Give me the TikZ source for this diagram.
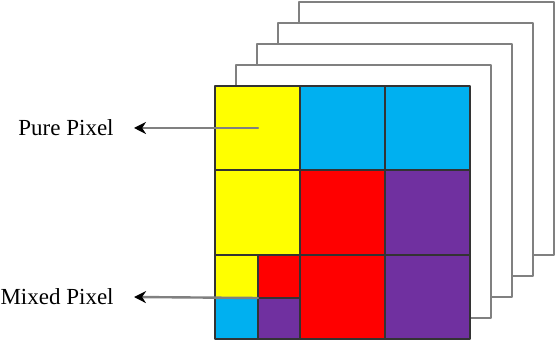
\documentclass[tikz,border=0pt]{standalone}
\usepackage{fontspec}
\setmainfont{Liberation Serif}
\usetikzlibrary{arrows.meta}
\definecolor{pxyellow}{HTML}{FFFF00}
\definecolor{pxcyan}{HTML}{00B0F0}
\definecolor{pxred}{HTML}{FF0000}
\definecolor{pxpurple}{HTML}{7030A0}
\begin{document}
\begin{tikzpicture}[x=0.5pt,y=-0.5pt,font=\fontsize{11.5}{13}\selectfont, line cap=round,line join=round,
  layer/.style={draw=black!50, fill=white, line width=1pt},
  cell/.style={draw=black!80, line width=1.1pt},
  label/.style={anchor=east, inner xsep=10pt, inner ysep=0pt},
  pointer/.style={draw=black!50, line width=1.2pt, -{Stealth[black,length=6pt,width=6pt]}}]
\useasboundingbox (0,0) rectangle (556,340);
% band layers behind the image
\foreach \k in {4,3,2,1}
  \draw[layer] ({215+21*\k},{86-21*\k}) rectangle ++(255,253);
% pixel grid
\filldraw[cell, fill=pxyellow] (215,86) rectangle (300,170);
\filldraw[cell, fill=pxcyan]   (300,86) rectangle (385,170);
\filldraw[cell, fill=pxcyan]   (385,86) rectangle (470,170);
\filldraw[cell, fill=pxyellow] (215,170) rectangle (300,255);
\filldraw[cell, fill=pxred]    (300,170) rectangle (385,255);
\filldraw[cell, fill=pxpurple] (385,170) rectangle (470,255);
\filldraw[cell, fill=pxred]    (300,255) rectangle (385,339);
\filldraw[cell, fill=pxpurple] (385,255) rectangle (470,339);
% mixed pixel
\filldraw[cell, fill=pxyellow] (215,255) rectangle (258,298);
\filldraw[cell, fill=pxred]    (258,255) rectangle (300,298);
\filldraw[cell, fill=pxcyan]   (215,298) rectangle (258,339);
\filldraw[cell, fill=pxpurple] (258,298) rectangle (300,339);
\coordinate (pure) at (258,128);
\coordinate (mixed) at (258,298);
\node[label] (puretxt) at (134,128) {Pure Pixel};
\node[label] (mixedtxt) at (134,297) {Mixed Pixel};
\draw[pointer] (pure) -- (puretxt.east);
\draw[pointer] (mixed) -- (mixedtxt.east);
\end{tikzpicture}
\end{document}
